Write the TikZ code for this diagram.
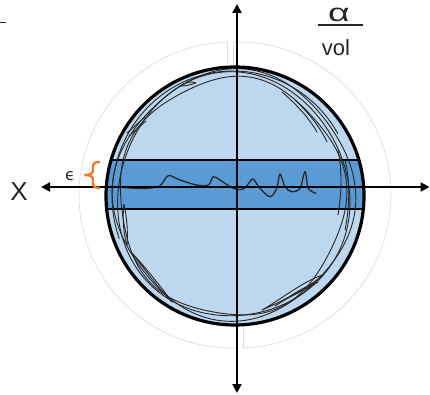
\documentclass[tikz,border=0pt]{standalone}
\usepackage{fontspec}
\newfontfamily\hand{Liberation Sans}
\newfontfamily\greek{DejaVu Sans}
\usetikzlibrary{arrows.meta}
\definecolor{lightfill}{HTML}{BDD7EE}
\definecolor{bandfill}{HTML}{5B9BD5}
\definecolor{bracecol}{HTML}{ED7D31}
\definecolor{ghost}{HTML}{DADADA}
\definecolor{ink}{HTML}{262626}
\tikzset{
  axisline/.style={line width=2.4pt, draw=black, {Triangle[length=9pt,width=9pt]}-{Triangle[length=9pt,width=9pt]}},
  scrib/.style={draw=ink, line width=0.9pt, line join=round, line cap=round},
  ghostline/.style={draw=ghost, line width=0.6pt},
  bandline/.style={draw=black, line width=2.2pt},
  handtext/.style={inner sep=0pt, text=ink},
}
\begin{document}
\begin{tikzpicture}[x=1pt,y=-1pt]
\useasboundingbox (0,0) rectangle (430,395);
\coordinate (c) at (235,196);

% faint outer circle (two offset halves)
\draw[ghostline] plot[domain=-91.9:88.1, samples=90, variable=\t] ({238+153*cos(\t)},{195+153*sin(\t)});
\draw[ghostline] plot[domain=88.1:268.1, samples=90, variable=\t] ({232+153*cos(\t)},{195+153*sin(\t)});
\coordinate (g1) at (227,42); \coordinate (g1b) at (227,64);
\coordinate (g2) at (233,42); \coordinate (g2b) at (233,64);
\coordinate (g3) at (237,327); \coordinate (g3b) at (237,348);
\coordinate (g4) at (243,327); \coordinate (g4b) at (243,348);
\draw[ghostline] (g1) -- (g1b) (g2) -- (g2b) (g3) -- (g3b) (g4) -- (g4b);

% disc and band
\fill[lightfill] (c) circle[radius=129pt];
\begin{scope}
  \clip (c) circle[radius=129pt];
  \fill[bandfill] (0,160) rectangle (430,209);
  \draw[bandline] (0,160) -- (430,160);
  \draw[bandline] (0,209) -- (430,209);
\end{scope}

% scribbled ring
\draw[scrib] plot[smooth cycle, domain=0:355, samples=72, variable=\t]
  ({233+116*(1+0.02*sin(3*\t+20))*cos(\t)}, {196+122*(1+0.02*sin(3*\t+20))*sin(\t)});
\draw[scrib] plot[smooth cycle, domain=0:355, samples=72, variable=\t]
  ({234+119*(1+0.025*sin(4*\t+70))*cos(\t)}, {195+124*(1+0.02*sin(4*\t+70))*sin(\t)});
\draw[scrib] plot[smooth cycle, domain=0:355, samples=72, variable=\t]
  ({232+113*(1+0.02*sin(5*\t+130))*cos(\t)}, {197+119*(1+0.02*sin(5*\t+130))*sin(\t)});
\draw[scrib] plot[smooth, domain=160:330, samples=40, variable=\t]
  ({233+121*cos(\t)}, {196+125*sin(\t)});
% loops and strokes
\draw[scrib] (323,275) .. controls (305,280) and (280,300) .. (262,310) .. controls (285,300) and (308,288) .. (323,275);
\draw[scrib] (318,282) .. controls (300,288) and (285,300) .. (275,306) .. controls (290,296) and (305,290) .. (318,282);
\draw[scrib] (132,253) .. controls (145,270) and (160,290) .. (172,302) .. controls (162,288) and (146,268) .. (132,253);
\draw[scrib] (124,204) .. controls (122,220) and (124,235) .. (127,246) .. controls (128,232) and (127,218) .. (124,204);
\draw[scrib] (127,133) -- (145,117);
\draw[scrib] (129,136) -- (146,121);
\draw[scrib] (180,86) .. controls (186,82) and (192,81) .. (196,83) .. controls (190,85) and (185,86) .. (180,86);
\draw[scrib] (282,92) .. controls (296,104) and (309,118) .. (317,132);
\draw[scrib] (295,100) .. controls (308,112) and (320,127) .. (327,142);
\draw[scrib] (338,150) .. controls (342,170) and (342,190) .. (338,215);
\draw[scrib] (345,160) .. controls (350,180) and (350,205) .. (345,230);

% outline circle
\draw[line width=3.2pt] (c) circle[radius=129pt];

% wiggly signal on the band
\draw[scrib, line width=1.3pt] plot[smooth, tension=0.55] coordinates {
  (118,187) (130,188) (146.7,188.3) (160,185.7) (168.3,175.7) (180,180) (196.7,185)
  (208.3,185) (213.3,176.7) (220,180) (233.3,188.3) (243.3,189) (250,181.7) (253.3,179)
  (260,188.3) (270,196.7) (276.7,188.3) (280,174) (285,186.7) (291.7,191.7) (300,188.3)
  (305,171.7) (308.3,188.3) (316,193.3)};

% axes
\coordinate (ytop) at (237,4);
\coordinate (ybot) at (237,393);
\coordinate (xl) at (41,187);
\coordinate (xr) at (429.5,187);
\draw[axisline, line width=2pt] (xl) -- (xr);
\draw[axisline] (ybot) -- (ytop);

% brace and epsilon
\draw[draw=bracecol, line width=2.4pt, line join=round]
  (100,162) .. controls (95,162) and (93,163) .. (93,167) -- (93,170)
  .. controls (93,173) and (91,175) .. (85,175)
  .. controls (91,175) and (93,177) .. (93,180) -- (93,183)
  .. controls (93,187) and (95,188) .. (100,188);
\node[handtext, font=\greek\fontsize{16}{16}\selectfont] (eps) at (70,176) {ϵ};

% labels
\node[handtext, font=\hand\fontsize{26}{26}\selectfont] (xlab) at (19,192) {X};
\coordinate (d1) at (0,22.5); \coordinate (d2) at (6,22.5);
\draw[draw=ink, line width=1.3pt] (d1) -- (d2);
\node[handtext, font=\hand\fontsize{25}{25}\selectfont, xscale=1.5] (alpha) at (339,15) {α};
\coordinate (f1) at (318,25); \coordinate (f2) at (363,25);
\draw[draw=ink, line width=1.4pt] (f1) -- (f2);
\node[handtext, font=\hand\fontsize{22}{22}\selectfont] (vol) at (336,48) {vol};
\end{tikzpicture}
\end{document}
